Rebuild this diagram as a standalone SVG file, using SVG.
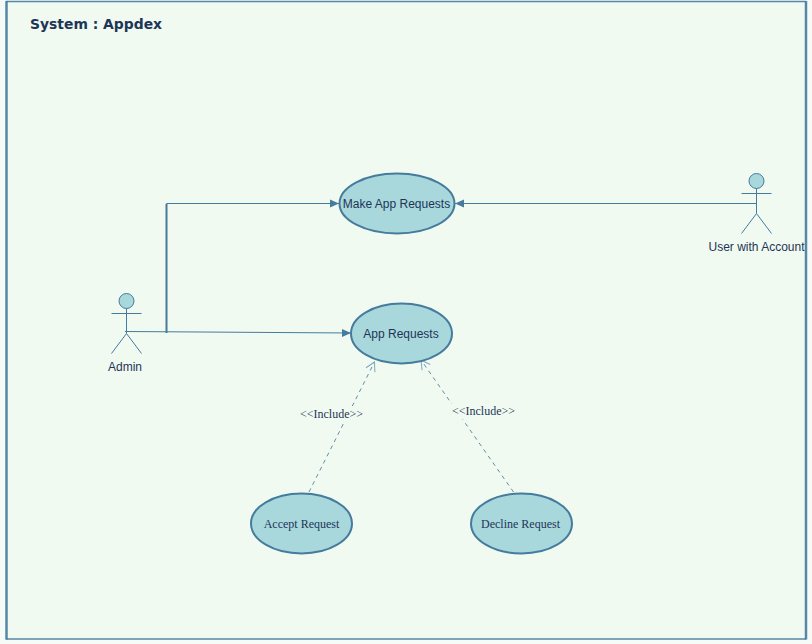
<svg xmlns="http://www.w3.org/2000/svg" width="812" height="644" viewBox="0 0 812 644">
<defs>
<style>
.shape{fill:#a8d8dc;stroke:#457b9d;stroke-width:2}
.act{fill:none;stroke:#457b9d;stroke-width:1}
.head{fill:#a8d8dc;stroke:#457b9d;stroke-width:1}
.line{fill:none;stroke:#457b9d;stroke-width:1}
.dash{fill:none;stroke:#457b9d;stroke-width:1;stroke-dasharray:4 4;stroke-opacity:.85}
.sans{font-family:"Liberation Sans",Arial,sans-serif;font-size:12px;fill:#1d3557;text-anchor:middle}
.serif{font-family:"Liberation Serif","Times New Roman",serif;font-size:12px;fill:#1d3557;text-anchor:middle}
.lblbg{fill:#f1faf0}
</style>
<marker id="fill" markerUnits="userSpaceOnUse" markerWidth="10" markerHeight="10" refX="9" refY="5" orient="auto"><path d="M0 1L9 5L0 9Z" fill="#457b9d"/></marker>
<marker id="open" markerUnits="userSpaceOnUse" markerWidth="12" markerHeight="12" refX="10" refY="6" orient="auto"><path d="M1 1L10 6L1 11" fill="none" stroke="#7fa8c0" stroke-width="1"/></marker>
</defs>
<rect width="812" height="644" fill="#f7fbf7"/>
<g id="system">
<rect x="6.500" y="1.500" width="799.500" height="638" fill="#f1faf0"/>
<path d="M6 1.500H806M6 639H806" fill="none" stroke="#457b9d" stroke-width="1.500" stroke-opacity=".9"/>
<path d="M6.500 1V639.500M806 1V639.500" fill="none" stroke="#457b9d" stroke-width="2.500" stroke-opacity=".9"/>
<text x="30" y="29" style="font-family:'DejaVu Sans',Verdana,sans-serif;font-size:13.900px;font-weight:700;fill:#1d3557">System : Appdex</text>
</g>
<g id="connectors">
<path class="line" d="M166.500 333V203.500H339" marker-end="url(#fill)"/>
<path d="M166.500 333V204" fill="none" stroke="#457b9d" stroke-width="2"/>
<path class="line" d="M125 331.500L351 333" marker-end="url(#fill)"/>
<path class="line" d="M756 203.500H455" marker-end="url(#fill)"/>
<path class="dash" d="M309 492L374.500 362" marker-end="url(#open)"/>
<path class="dash" d="M513.500 492L421 360" marker-end="url(#open)"/>
</g>
<g id="make-app-requests"><ellipse class="shape" cx="397" cy="203.500" rx="57.500" ry="30"/><text class="sans" x="396.500" y="208">Make App Requests</text></g>
<g id="app-requests"><ellipse class="shape" cx="401.500" cy="333.500" rx="50.500" ry="30"/><text class="sans" x="401" y="338">App Requests</text></g>
<g id="accept-request"><ellipse class="shape" cx="301.500" cy="523.500" rx="50.500" ry="30"/><text class="serif" x="301.500" y="528">Accept Request</text></g>
<g id="decline-request"><ellipse class="shape" cx="521.500" cy="523.500" rx="50.500" ry="30"/><text class="serif" x="520.500" y="528">Decline Request</text></g>
<g id="admin">
<circle class="head" cx="126.500" cy="301" r="7.500"/>
<path class="act" d="M126.500 308.500V333.500M111.500 313.500H141.500M111.500 353.500L126.500 333.500L141.500 353.500"/>
<text class="sans" x="125" y="371">Admin</text>
</g>
<g id="user-with-account">
<circle class="head" cx="756.500" cy="181" r="7.500"/>
<path class="act" d="M756.500 188.500V213.500M741.500 193.500H771.500M741.500 233.500L756.500 213.500L771.500 233.500"/>
<text class="sans" x="756.500" y="251">User with Account</text>
</g>
<g id="labels">
<rect class="lblbg" x="300" y="406" width="63" height="17"/>
<text class="serif" x="331.500" y="418">&lt;&lt;Include&gt;&gt;</text>
<rect class="lblbg" x="451" y="403.500" width="65" height="16"/>
<text class="serif" x="483.500" y="415">&lt;&lt;Include&gt;&gt;</text>
</g>
</svg>
